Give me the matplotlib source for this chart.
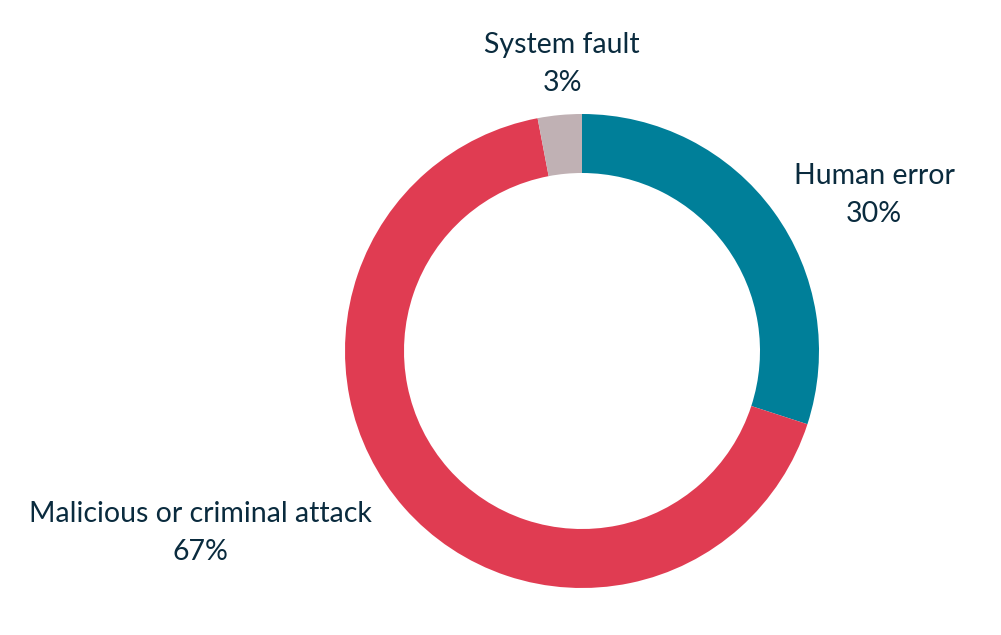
import matplotlib
matplotlib.use('Agg')
import matplotlib.pyplot as plt

labels = ['Human error', 'Malicious or criminal attack', 'System fault']
values = [30, 67, 3]
colors = ['#007f99', '#e03c52', '#c0b1b4']
# label anchor positions in pixels (x, y from top)
label_pos = [(874, 195), (200, 533), (562, 64)]

txt_color = '#0a2b3e'
plt.rcParams['font.family'] = ['Lato', 'DejaVu Sans']

fig = plt.figure(figsize=(10.01, 6.35), dpi=100)
ax = fig.add_axes([0, 0, 1, 1])
cx, cy, r = 582, 635 - 351, 237
ax.pie(values, colors=colors, startangle=90, counterclock=False,
       center=(cx, cy), radius=r,
       wedgeprops=dict(width=59, edgecolor='none'))
for lab, v, (x, y) in zip(labels, values, label_pos):
    ax.text(x, 635 - y, lab + '\n' + str(v) + '%', ha='center', va='center',
            fontsize=20.5, color=txt_color, linespacing=1.55)
ax.set_xlim(0, 1001)
ax.set_ylim(0, 635)
ax.set_aspect('equal')
ax.axis('off')
fig.savefig('out.png', dpi=100)
